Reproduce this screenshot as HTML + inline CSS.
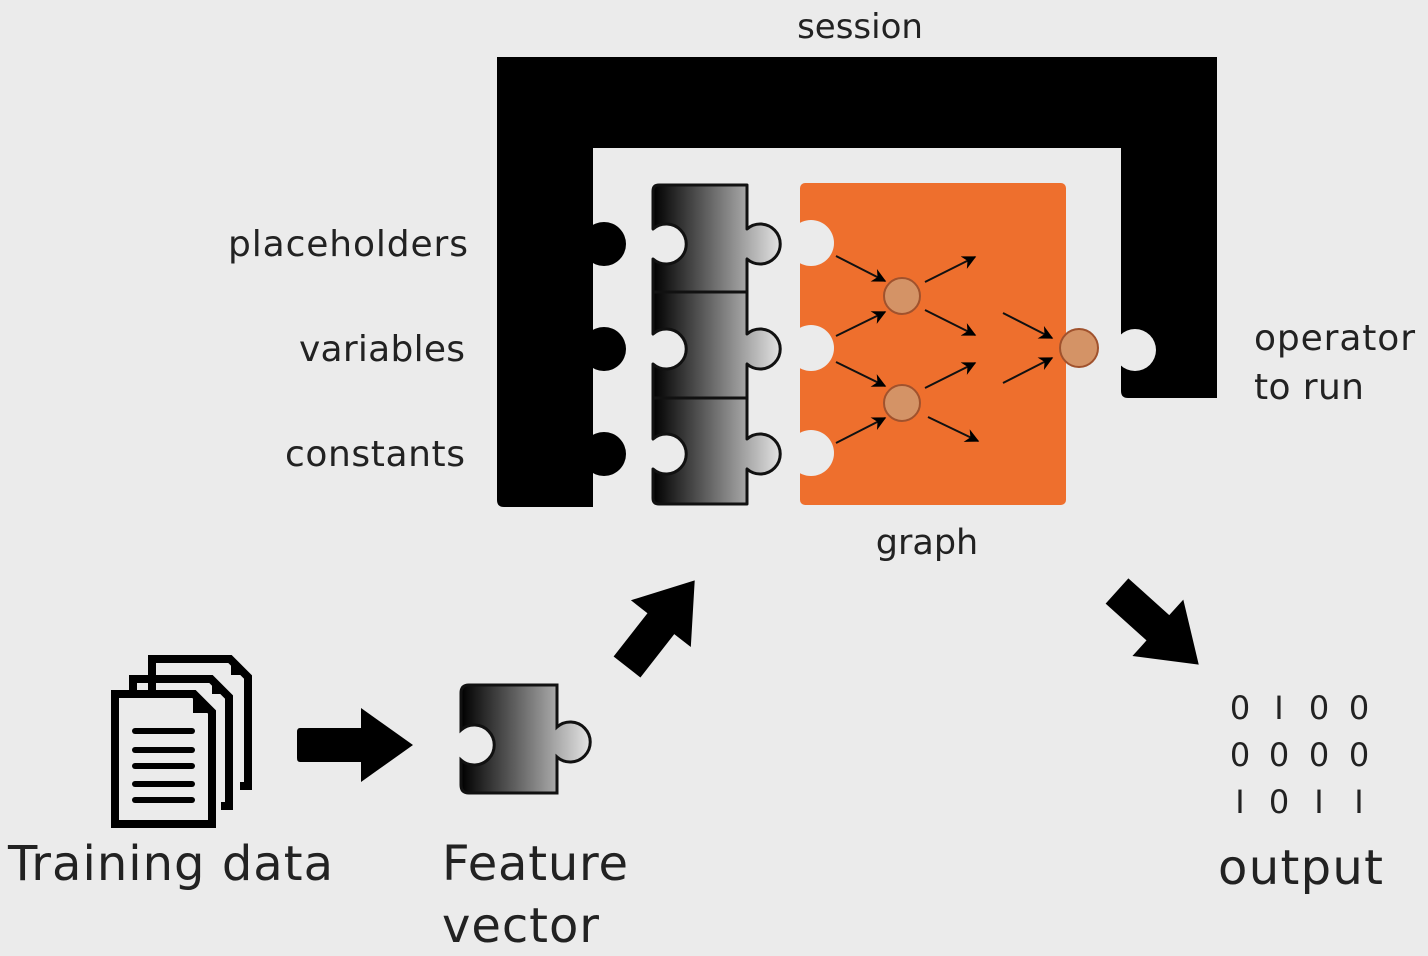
<!DOCTYPE html>
<html><head><meta charset="utf-8"><style>
html,body{margin:0;padding:0;background:#ebebeb;}
svg{display:block;}
text{font-family:"DejaVu Sans","Liberation Sans",sans-serif;fill:#222;}
</style></head><body>
<svg width="1428" height="956" viewBox="0 0 1428 956" xmlns="http://www.w3.org/2000/svg">
<defs>
<linearGradient id="g1" gradientUnits="userSpaceOnUse" x1="653" y1="0" x2="782" y2="0">
<stop offset="0" stop-color="#000"/><stop offset="1" stop-color="#e6e6e6"/></linearGradient>
<linearGradient id="g2" gradientUnits="userSpaceOnUse" x1="461" y1="0" x2="591" y2="0">
<stop offset="0" stop-color="#000"/><stop offset="1" stop-color="#e6e6e6"/></linearGradient>
<marker id="a2" viewBox="0 0 10 10" refX="9" refY="5" markerWidth="20" markerHeight="14" orient="auto" markerUnits="userSpaceOnUse">
<path d="M0,0 L10,5 L0,10 L3,5 z" fill="#000"/></marker>
</defs>
<rect width="1428" height="956" fill="#ebebeb"/>

<text x="860" y="38" font-size="34" text-anchor="middle">session</text>

<!-- session frame -->
<path d="M497,57 H1217 V398 H1128 Q1121,398 1121,391 V148 H593 V507 H504 Q497,507 497,500 Z" fill="#000"/>
<circle cx="604" cy="244" r="22" fill="#000"/>
<circle cx="604" cy="349" r="22" fill="#000"/>
<circle cx="604" cy="454" r="22" fill="#000"/>
<circle cx="1135" cy="350" r="21" fill="#ebebeb"/>
<rect x="1110" y="325" width="11" height="50" fill="#ebebeb"/>

<!-- gradient pieces -->
<g stroke="#111" stroke-width="3" fill="url(#g1)" stroke-linejoin="round">
<path d="M659,185 H747 V229 A20,20 0 1 1 747,259 V292 H653 V259 A20,20 0 1 0 653,229 V191 Q653,185 659,185 Z"/>
<path d="M653,292 H747 V334 A20,20 0 1 1 747,364 V398 H653 V364 A20,20 0 1 0 653,334 Z"/>
<path d="M653,398 H747 V439 A20,20 0 1 1 747,469 V504 H659 Q653,504 653,498 V469 A20,20 0 1 0 653,439 Z"/>
</g>

<!-- graph -->
<rect x="800" y="183" width="266" height="322" rx="5" fill="#ee6f2d"/>
<circle cx="811" cy="243" r="23" fill="#ebebeb"/>
<circle cx="811" cy="348" r="23" fill="#ebebeb"/>
<circle cx="811" cy="453" r="23" fill="#ebebeb"/>
<rect x="796" y="215" width="4" height="260" fill="#ebebeb"/>
<g stroke="#111" stroke-width="2" marker-end="url(#a2)">
<line x1="836" y1="256" x2="885" y2="281"/>
<line x1="836" y1="336" x2="885" y2="312"/>
<line x1="836" y1="362" x2="885" y2="386"/>
<line x1="836" y1="443" x2="885" y2="418"/>
<line x1="925" y1="282" x2="975" y2="257"/>
<line x1="925" y1="310" x2="975" y2="335"/>
<line x1="925" y1="388" x2="975" y2="363"/>
<line x1="928" y1="417" x2="978" y2="441"/>
<line x1="1003" y1="313" x2="1052" y2="338"/>
<line x1="1003" y1="383" x2="1052" y2="358"/>
</g>
<g fill="#d49366" stroke="#a0522d" stroke-width="2">
<circle cx="902" cy="296" r="18"/>
<circle cx="902" cy="403" r="18"/>
<circle cx="1079" cy="348" r="19"/>
</g>

<g font-size="36">
<text x="468" y="256" text-anchor="end" textLength="240">placeholders</text>
<text x="465" y="361" text-anchor="end" textLength="166">variables</text>
<text x="465" y="466" text-anchor="end" textLength="180">constants</text>
<text x="1254" y="350" textLength="161">operator</text>
<text x="1254" y="399" textLength="110">to run</text>
<text x="927" y="554" text-anchor="middle" font-size="35">graph</text>
</g>

<!-- documents -->
<g fill="none" stroke="#000" stroke-width="8">
<path d="M152,690 V659 H230 L248,677 V786 H240"/>
<path d="M133,710 V679 H211 L229,697 V806 H221"/>
<path d="M115,694 H194 L212,712 V824 H115 Z" fill="#ebebeb"/>
</g>
<polygon points="193,694 212,713 193,713" fill="#000"/>
<polygon points="212,675 231,694 212,694" fill="#000"/>
<polygon points="231,656 250,675 231,675" fill="#000"/>
<g stroke="#000" stroke-width="6" stroke-linecap="round">
<line x1="135" y1="731" x2="192" y2="731"/>
<line x1="135" y1="750" x2="192" y2="750"/>
<line x1="135" y1="766" x2="192" y2="766"/>
<line x1="135" y1="784" x2="192" y2="784"/>
<line x1="135" y1="800" x2="192" y2="800"/>
</g>

<!-- right arrow -->
<path d="M300,728 H361 V708 L413,745 L361,782 V762 H300 Q297,762 297,758 V732 Q297,728 300,728 Z" fill="#000"/>

<!-- feature piece -->
<path d="M469,685 H557 V727 A20,20 0 1 1 557,757 V793 H469 Q461,793 461,785 V760 A20,20 0 1 0 461,730 V693 Q461,685 469,685 Z" fill="url(#g2)" stroke="#111" stroke-width="3"/>

<!-- diagonal arrows -->
<g fill="#000">
<path d="M0,-17 H55 V-38 L110,0 L55,38 V17 H0 Z" transform="translate(627,667) rotate(-52)"/>
<path d="M0,-17 H55 V-38 L110,0 L55,38 V17 H0 Z" transform="translate(1117,591) rotate(42)"/>
</g>

<!-- binary -->
<g font-size="32" font-family="'Liberation Sans Narrow','Liberation Sans',sans-serif" text-anchor="middle" style="fill:#111">
<text x="1240" y="719">0</text><text x="1279" y="719">I</text><text x="1319" y="719">0</text><text x="1359" y="719">0</text>
<text x="1240" y="766">0</text><text x="1279" y="766">0</text><text x="1319" y="766">0</text><text x="1359" y="766">0</text>
<text x="1240" y="813">I</text><text x="1279" y="813">0</text><text x="1319" y="813">I</text><text x="1359" y="813">I</text>
</g>

<g font-size="48">
<text x="8" y="880" textLength="325">Training data</text>
<text x="442" y="880" textLength="186">Feature</text>
<text x="442" y="942" textLength="157">vector</text>
<text x="1218" y="884" textLength="165">output</text>
</g>
</svg>
</body></html>
